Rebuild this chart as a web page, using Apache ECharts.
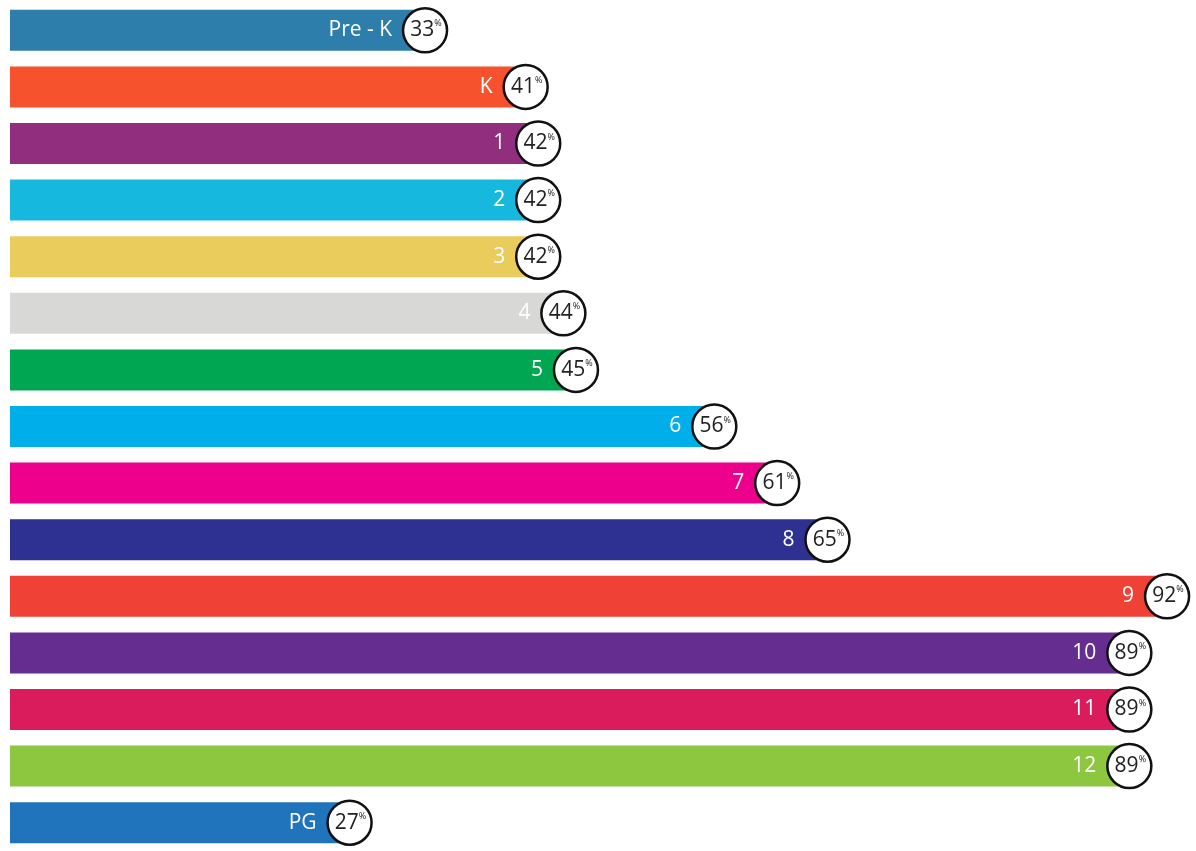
<!DOCTYPE html>
<html>
<head>
<meta charset="utf-8">
<script src="https://cdn.jsdelivr.net/npm/echarts@6/dist/echarts.min.js"></script>
<style>
html,body{margin:0;padding:0;background:#fff;}
#c{width:1196px;height:851px;}
</style>
</head>
<body>
<div id="c"></div>
<script>
const categories = ['Pre - K','K','1','2','3','4','5','6','7','8','9','10','11','12','PG'];
const values = [33,41,42,42,42,44,45,56,61,65,92,89,89,89,27];
const colors = ['#2e7eab','#f6522d','#912f7e','#17b8de','#e9cc5b','#d8d8d6','#00a651','#00aeea','#ec008c','#2e3192','#ef4136','#662d91','#da1c5c','#8dc63f','#1f74bb'];

const chart = echarts.init(document.getElementById('c'));
chart.setOption({
  animation:false,
  grid:{left:10,right:0,top:2,height:851},
  xAxis:{type:'value',min:0,max:94.3,show:false},
  yAxis:{type:'category',data:categories,inverse:true,show:false},
  series:[
    {
      type:'bar',
      barWidth:41,
      data:values.map((v,i)=>({value:v,itemStyle:{color:colors[i]}})),
      label:{
        show:true,
        position:'insideRight',
        distance:33,
        formatter:p=>p.name,
        color:'#fff',
        fontFamily:'Open Sans',
        fontSize:21
      }
    },
    {
      type:'scatter',
      symbol:'circle',
      symbolSize:44,
      z:5,
      itemStyle:{color:'#fff',borderColor:'#111',borderWidth:2.5,opacity:1},
      data:values.map((v,i)=>[v,categories[i]]),
      label:{
        show:true,
        position:'inside',
        offset:[1,0],
        formatter:p=>'{a|'+p.value[0]+'}{b|%}',
        rich:{
          a:{fontSize:21,color:'#222',fontFamily:'Open Sans',lineHeight:22,verticalAlign:'middle'},
          b:{fontSize:9,color:'#222',fontFamily:'Open Sans',lineHeight:22,verticalAlign:'top'}
        }
      }
    }
  ]
});
</script>
</body>
</html>
